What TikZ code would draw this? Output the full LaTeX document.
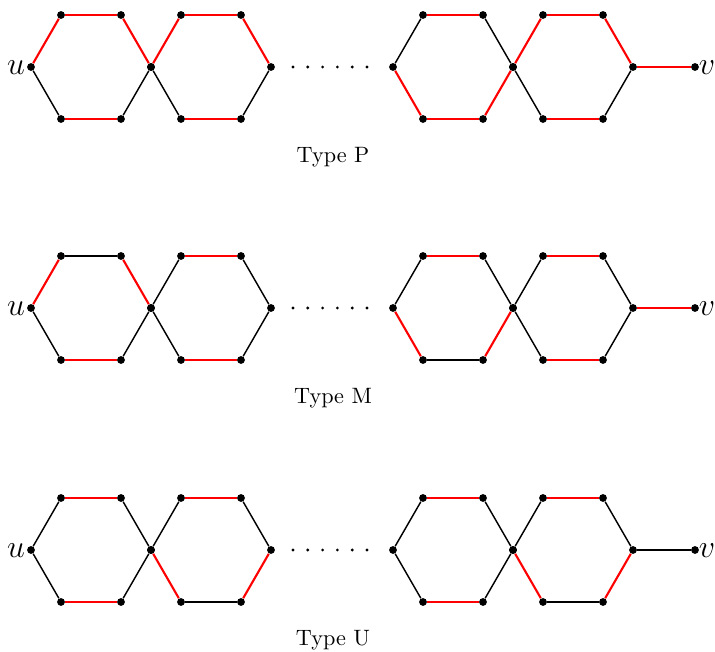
\documentclass[tikz,border=0pt]{standalone}
\begin{document}
\begin{tikzpicture}[x=0.45pt,y=-0.45pt,
  vtx/.style={circle,fill=black,inner sep=0pt,minimum size=3.5pt},
  dotv/.style={circle,fill=black,inner sep=0pt,minimum size=1.4pt},
  redE/.style={red,line width=0.95pt},
  blkE/.style={black,line width=0.65pt},
  endlbl/.style={font=\Large,inner sep=0pt},
  typelbl/.style={font=\normalsize,inner sep=0pt}]
\useasboundingbox (0,0) rectangle (715,652);
\newcommand\hexnodes[4]{%
  \node[vtx] (#1-#2-L)  at (#3,#4) {};
  \node[vtx] (#1-#2-TL) at ({#3+30},{#4-52}) {};
  \node[vtx] (#1-#2-TR) at ({#3+90},{#4-52}) {};
  \node[vtx] (#1-#2-R)  at ({#3+120},{#4}) {};
  \node[vtx] (#1-#2-BR) at ({#3+90},{#4+52}) {};
  \node[vtx] (#1-#2-BL) at ({#3+30},{#4+52}) {};
}
\newcommand\hexedges[8]{%
  \draw[#3] (#1-#2-L)  -- (#1-#2-TL);
  \draw[#4] (#1-#2-TL) -- (#1-#2-TR);
  \draw[#5] (#1-#2-TR) -- (#1-#2-R);
  \draw[#6] (#1-#2-R)  -- (#1-#2-BR);
  \draw[#7] (#1-#2-BR) -- (#1-#2-BL);
  \draw[#8] (#1-#2-BL) -- (#1-#2-L);
}
\newcommand\rowframe[3]{% row, y center, label
  \hexnodes{#1}{1}{31}{#2}
  \hexnodes{#1}{2}{151}{#2}
  \hexnodes{#1}{3}{393}{#2}
  \hexnodes{#1}{4}{513}{#2}
  \node[vtx] (#1-v) at (695,#2) {};
  \node[endlbl] (#1-ul) at (16,{#2+1}) {$u$};
  \node[endlbl] (#1-vl) at (707,{#2+1}) {$v$};
  \foreach \i in {0,...,5} {\node[dotv] (#1-d\i) at ({293+14.8*\i},#2) {};}
  \node[typelbl] (#1-t) at (333,{#2+90}) {#3};
}
% Type P
\rowframe{1}{67}{Type P}
\hexedges{1}{1}{redE}{redE}{redE}{blkE}{redE}{blkE}
\hexedges{1}{2}{redE}{redE}{redE}{blkE}{redE}{blkE}
\hexedges{1}{3}{blkE}{redE}{blkE}{redE}{redE}{redE}
\hexedges{1}{4}{redE}{redE}{redE}{blkE}{redE}{blkE}
\draw[redE] (1-4-R) -- (1-v);
% Type M
\rowframe{2}{308}{Type M}
\hexedges{2}{1}{redE}{blkE}{redE}{blkE}{redE}{blkE}
\hexedges{2}{2}{blkE}{redE}{blkE}{blkE}{redE}{blkE}
\hexedges{2}{3}{blkE}{redE}{blkE}{redE}{blkE}{redE}
\hexedges{2}{4}{blkE}{redE}{blkE}{blkE}{redE}{blkE}
\draw[redE] (2-4-R) -- (2-v);
% Type U
\rowframe{3}{550}{Type U}
\hexedges{3}{1}{blkE}{redE}{blkE}{blkE}{redE}{blkE}
\hexedges{3}{2}{blkE}{redE}{blkE}{redE}{blkE}{redE}
\hexedges{3}{3}{blkE}{redE}{blkE}{blkE}{redE}{blkE}
\hexedges{3}{4}{blkE}{redE}{blkE}{redE}{blkE}{redE}
\draw[blkE] (3-4-R) -- (3-v);
\end{tikzpicture}
\end{document}
